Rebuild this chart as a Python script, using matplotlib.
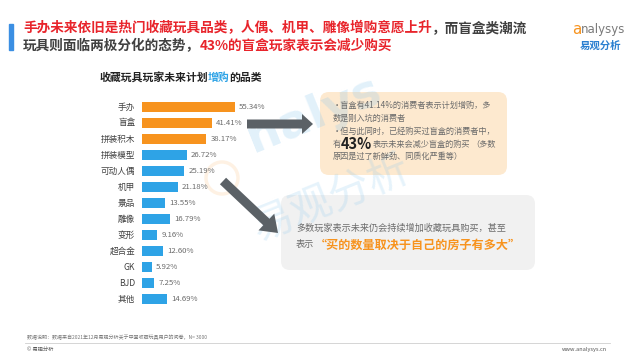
import matplotlib.pyplot as plt
from matplotlib.patches import FancyArrow, FancyBboxPatch, Rectangle, Circle

plt.rcParams['font.family'] = ['Noto Sans CJK SC', 'DejaVu Sans']

# data
categories = ["手办", "盲盒", "拼装积木", "拼装模型", "可动人偶", "机甲", "景品",
              "雕像", "变形", "超合金", "GK", "BJD", "其他"]
values = [55.34, 41.41, 38.17, 26.72, 25.19, 21.18, 13.55, 16.79, 9.16, 12.60, 5.92, 7.25, 14.69]
n_orange = 3

ORANGE = "#F7931E"
BLUE = "#2EA3E6"
RED = "#E8242B"
DARK = "#404040"
GRAY = "#6b6b6b"

W, H = 630, 356
fig = plt.figure(figsize=(6.3, 3.56), dpi=100)
fig.patch.set_facecolor("white")

# background layer in pixel coordinates: watermark, boxes, text
ax = fig.add_axes([0, 0, 1, 1])
ax.set_xlim(0, W)
ax.set_ylim(H, 0)
ax.axis("off")

# bar chart in its own axes (pixel-based placement)
bx0, bx1 = 142, 142 + 168  # 0..100 %
by0, by1 = 99, 307
bax = fig.add_axes([bx0 / W, 1 - by1 / H, (bx1 - bx0) / W, (by1 - by0) / H])
bax.patch.set_alpha(0)
colors = [ORANGE if i < n_orange else BLUE for i in range(len(values))]
ypos = list(range(len(values)))
bax.barh(ypos, values, height=0.58, color=colors)
bax.set_xlim(0, 100)
bax.set_ylim(len(values) - 0.5, -0.5)
bax.axis("off")
for y, v, c in zip(ypos, values, categories):
    bax.text(v + 2.5, y, "%.2f%%" % v, va="center", ha="left", fontsize=5.6, color=GRAY)
    bax.text(-4, y, c, va="center", ha="right", fontsize=6.2, color=DARK)

# top layer for arrows
top = fig.add_axes([0, 0, 1, 1])
top.set_xlim(0, W)
top.set_ylim(H, 0)
top.axis("off")
top.patch.set_alpha(0)

renderer = fig.canvas.get_renderer()


def em(fontsize):
    # width of one full-width CJK glyph in pixels
    return fontsize * 100 / 72


def width_of(t):
    return t.get_window_extent(renderer).width * W / fig.bbox.width


# watermark
ax.add_patch(Circle((222, 178), 16, fill=False, ec=ORANGE, lw=2.5, alpha=0.12))
ax.text(240, 152, "nalys", fontsize=34, color="#8cc8ee", alpha=0.25, rotation=22,
        va="baseline", ha="left", family="DejaVu Sans", weight="bold")
ax.text(246, 240, "易观分析", fontsize=30, color="#8cc8ee", alpha=0.22, rotation=22,
        va="baseline", ha="left")

# header
ax.add_patch(Rectangle((9, 24), 3.5, 26, color="#3b8fe3"))
hf = 9.8
ax.text(23, 28, "手办未来依旧是热门收藏玩具品类，人偶、机甲、雕像增购意愿上升", fontsize=hf,
        weight="bold", color=RED, va="center")
ax.text(23 + 30 * em(hf), 28, "，而盲盒类潮流", fontsize=hf, weight="bold", color=DARK, va="center")
ax.text(23, 46, "玩具则面临两极分化的态势，", fontsize=hf, weight="bold", color=DARK, va="center")
ax.text(23 + 13 * em(hf), 46, "43%的盲盒玩家表示会减少购买", fontsize=hf, weight="bold", color=RED,
        va="center")

# logo
ax.text(572, 30, "a", fontsize=11, color=ORANGE, va="center", ha="left", family="DejaVu Sans")
ax.text(581, 30, "nalysys", fontsize=8.5, color="#7a7a7a", va="center", ha="left", family="DejaVu Sans")
ax.text(600, 46, "易观分析", fontsize=7.5, color="#2a7fd0", va="center", ha="center", weight="bold")

# chart title
tf = 7.8
t1 = ax.text(100, 78, "收藏玩具玩家未来计划", fontsize=tf, weight="bold", color="#222222", va="center")
x2 = 100 + width_of(t1) - 0.8
t2 = ax.text(x2, 78, "增购", fontsize=tf, weight="bold", color=BLUE, va="center")
x3 = x2 + width_of(t2) - 0.8
ax.text(x3, 78, "的品类", fontsize=tf, weight="bold", color="#222222", va="center")

# arrows
top.add_patch(FancyArrow(247, 124, 66, 0, width=9, head_width=20, head_length=11,
                         length_includes_head=True, color="#5b6166", lw=0))
top.add_patch(FancyArrow(223, 181, 55, 52, width=9, head_width=23, head_length=16,
                         length_includes_head=True, color="#5b6166", lw=0))

# orange note box
ax.add_patch(FancyBboxPatch((320, 92), 187, 83, boxstyle="round,pad=0,rounding_size=9",
                            fc="#FDE9CF", ec="none"))
tx = 333
fs = 5.9
ax.text(tx, 105, "•盲盒有41.14%的消费者表示计划增购，多", fontsize=fs, color=GRAY, va="center")
ax.text(tx, 118, "数是刚入坑的消费者", fontsize=fs, color=GRAY, va="center")
ax.text(tx, 131, "•但与此同时，已经购买过盲盒的消费者中，", fontsize=fs, color=GRAY, va="center")
ax.text(tx, 144, "有", fontsize=fs, color=GRAY, va="center")
t43 = ax.text(tx + em(fs), 144, "43%", fontsize=10.5, weight="bold", color="#222222", va="center")
x_rest = tx + em(fs) + width_of(t43) + 0.5
ax.text(x_rest, 144, "表示未来会减少盲盒的购买", fontsize=fs, color=GRAY, va="center")
ax.text(x_rest + 12 * em(fs), 144, "（多数", fontsize=fs, color=GRAY, va="center", style="italic")
ax.text(tx, 156, "原因是过了新鲜劲、同质化严重等）", fontsize=fs, color=GRAY, va="center",
        style="italic")

# gray note box
ax.add_patch(FancyBboxPatch((281, 195), 254, 75, boxstyle="round,pad=0,rounding_size=9",
                            fc="#F1F1F1", ec="none"))
gf = 6.6
ax.text(296, 228, "多数玩家表示未来仍会持续增加收藏玩具购买，甚至", fontsize=gf, color=GRAY,
        va="center", style="italic")
ax.text(296, 245, "表示", fontsize=gf, color=GRAY, va="center", style="italic")
ax.text(296 + 2 * em(gf), 245, "“买的数量取决于自己的房子有多大”", fontsize=8.7, color=ORANGE,
        weight="bold", va="center", style="italic")

# footer
ax.plot([25, 610], [343, 343], color="#cfcfcf", lw=0.6)
ax.text(27, 337, "数据说明：数据来自2021年12月易观分析关于中国收藏玩具用户的问卷，N= 3000",
        fontsize=3.6, color="#777777", va="center")
ax.text(27, 349, "© 易观分析", fontsize=3.8, color="#555555", va="center")
ax.text(607, 349, "www.analysys.cn", fontsize=4.0, color="#555555", va="center", ha="right")

fig.savefig("out.png", dpi=100)
